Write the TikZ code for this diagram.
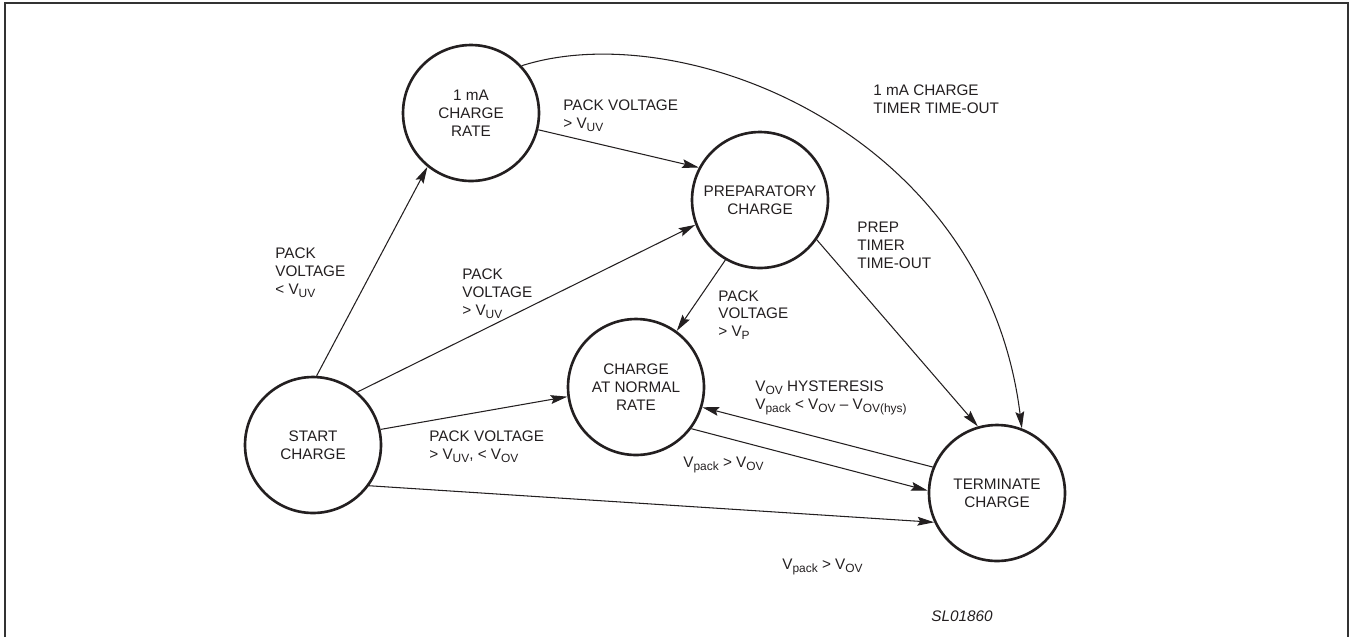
\documentclass[tikz,border=0pt]{standalone}
\usepackage{fontspec}
\setmainfont{Liberation Sans}
\usetikzlibrary{arrows.meta}
\newcommand{\lsub}[1]{\raisebox{-1.6pt}{\fontsize{6.8pt}{7pt}\selectfont #1}}
\definecolor{ink}{HTML}{231F20}
\begin{document}
\begin{tikzpicture}[x=0.02cm, y=-0.02cm, font=\fontsize{8.7pt}{10.2pt}\selectfont, text=ink]
    \tikzstyle{arrow} = [line width=0.6pt, draw=ink, -{Stealth[length=9.5pt, width=5pt, inset=1.5pt]}]
    \tikzstyle{stnode} = [circle, minimum size=2.72cm, inner sep=0pt, align=center, draw=ink, line width=1.5pt]
    \tikzstyle{cond} = [align=left, anchor=west, inner sep=0pt]
    \useasboundingbox (0,0) rectangle (1349,637);
    \draw[line width=1.1pt, draw=black!80] (5,637) -- (5,3) -- (1348,3) -- (1348,637);
    % states
    \node[stnode](rate) at (471,113){1 mA\\CHARGE\\RATE};
    \node[stnode](prep) at (760,200){PREPARATORY\\CHARGE};
    \node[stnode](start) at (313,445){START\\CHARGE};
    \node[stnode](normal) at (636,387){CHARGE\\AT NORMAL\\RATE};
    \node[stnode](term) at (997,493){TERMINATE\\CHARGE};
    % transitions
    \draw[arrow] (start.87)--(rate.231);
    \draw[arrow] (rate.-14)--(prep.152);
    \draw[arrow] (rate.43) .. controls (680,15) and (985,130) .. (term.69);
    \draw[arrow] (start.50)--(prep.201);
    \draw[arrow] (prep.240)--(normal.54);
    \draw[arrow] (prep.-35)--(term.106);
    \draw[arrow] (start.13)--(normal.188);
    \draw[arrow] (normal.-37)--(term.178);
    \draw[arrow] (term.158)--(normal.-17);
    \draw[arrow] (start.-36)--(term.205);
    % conditions
    \node[cond](c1) at (275,273){PACK\\VOLTAGE\\< V\lsub{UV}};
    \node[cond](c2) at (563,116){PACK VOLTAGE\\> V\lsub{UV}};
    \node[cond](c3) at (873,99){1 mA CHARGE\\TIMER TIME-OUT};
    \node[cond](c4) at (462,294){PACK\\VOLTAGE\\> V\lsub{UV}};
    \node[cond](c5) at (718,315){PACK\\VOLTAGE\\> V\lsub{P}};
    \node[cond](c6) at (857,245){PREP\\TIMER\\TIME-OUT};
    \node[cond](c7) at (429,447){PACK VOLTAGE\\> V\lsub{UV}, < V\lsub{OV}};
    \node[cond](c8) at (755,398){V\lsub{OV} HYSTERESIS\\V\lsub{pack} < V\lsub{OV} \textendash{} V\lsub{OV(hys)}};
    \node[cond](c9) at (683,465){V\lsub{pack} > V\lsub{OV}};
    \node[cond](c10) at (782,567){V\lsub{pack} > V\lsub{OV}};
    \node[cond](ref) at (931,616){\itshape SL01860};
\end{tikzpicture}
\end{document}
